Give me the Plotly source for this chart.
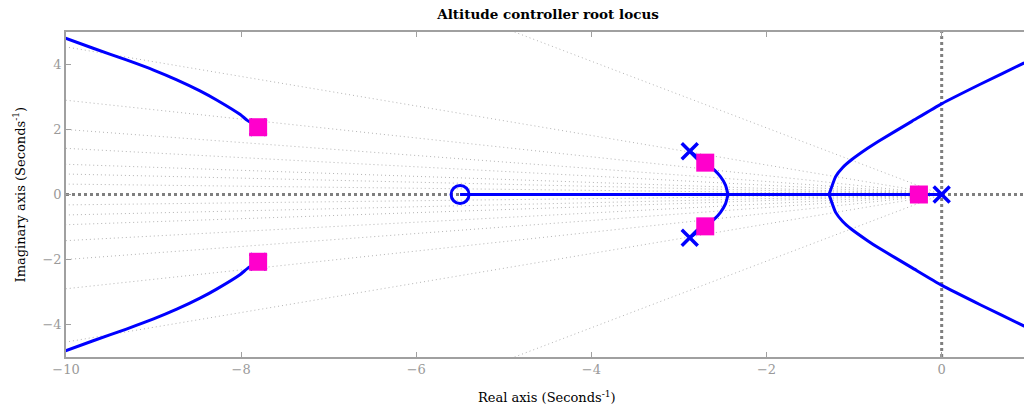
import plotly.graph_objects as go

# ---------------- data ----------------
# open-loop poles / zeros
pole_re = [0.0, -2.877, -2.877, -7.806, -7.806]
pole_im = [0.0, 1.33, -1.33, 2.07, -2.07]
zero_re = [-5.5]
zero_im = [0.0]

# closed-loop poles at chosen gain
cl_re = [-7.806, -7.806, -2.70, -2.70, -0.26]
cl_im = [2.07, -2.07, 0.98, -0.98, 0.0]

# branch from the far complex poles toward left asymptotes (upper half)
far_x = [-7.806, -7.93, -8.01, -8.28, -8.47, -8.735, -9.0, -9.31, -9.69, -10.05]
far_y = [2.07, 2.28, 2.46, 2.91, 3.19, 3.53, 3.83, 4.14, 4.50, 4.85]

# branch from near complex poles to break-in point (upper half)
near_x = [-2.877, -2.70, -2.594, -2.526, -2.469, -2.44]
near_y = [1.33, 0.98, 0.75, 0.547, 0.29, 0.0]

# branch from break-away point toward right asymptotes (upper half)
right_x = [-1.286, -1.211, -1.13, -1.033, -0.846, -0.721, -0.341, -0.002, 0.446, 0.936, 1.0]
right_y = [0.0, 0.55, 0.83, 1.06, 1.42, 1.64, 2.25, 2.79, 3.40, 4.04, 4.12]

# real-axis locus segment
real_seg_x = [-5.5, 0.0]

# damping-ratio grid lines (slopes of rays from origin)
damping_slopes = [0.032, 0.063, 0.093, 0.142, 0.200, 0.290, 0.454, 1.025]

x_ticks = [-10, -8, -6, -4, -2, 0]
y_ticks = [-4, -2, 0, 2, 4]
x_range = [-10, 0.94]
y_range = [-5, 5]

BLUE = "#0000ff"
MAG = "#ff00cc"
GRID = "#b4b4b4"
AXG = "#7f7f7f"
FONT = "DejaVu Serif"

fig = go.Figure()

# damping grid rays
for s in damping_slopes:
    for sign in (1, -1):
        fig.add_trace(go.Scatter(x=[0, -10.5], y=[0, sign * s * 10.5], mode="lines",
                                 line=dict(color=GRID, width=1, dash="1px,3px"),
                                 hoverinfo="skip", showlegend=False))

# thick dotted axes through origin
fig.add_trace(go.Scatter(x=[x_range[0], x_range[1] + 0.1], y=[0, 0], mode="lines",
                         line=dict(color=AXG, width=3, dash="dot"), showlegend=False))
fig.add_trace(go.Scatter(x=[0, 0], y=[y_range[0], y_range[1]], mode="lines",
                         line=dict(color=AXG, width=3, dash="dot"), showlegend=False))

# locus branches
def branch(xs, ys):
    for sign in (1, -1):
        fig.add_trace(go.Scatter(x=xs, y=[sign * v for v in ys], mode="lines",
                                 line=dict(color=BLUE, width=3, shape="spline", smoothing=0.5),
                                 showlegend=False))

branch(far_x, far_y)
branch(near_x, near_y)
branch(right_x, right_y)
fig.add_trace(go.Scatter(x=real_seg_x, y=[0, 0], mode="lines",
                         line=dict(color=BLUE, width=3), showlegend=False))

# poles
fig.add_trace(go.Scatter(x=pole_re, y=pole_im, mode="markers",
                         marker=dict(symbol="x-thin", size=16, color=BLUE,
                                     line=dict(color=BLUE, width=3.5)),
                         showlegend=False))
# zero
fig.add_trace(go.Scatter(x=zero_re, y=zero_im, mode="markers",
                         marker=dict(symbol="circle-open", size=18, color=BLUE,
                                     line=dict(color=BLUE, width=3)),
                         showlegend=False))
# closed-loop poles
fig.add_trace(go.Scatter(x=cl_re, y=cl_im, mode="markers",
                         marker=dict(symbol="square", size=18, color=MAG,
                                     line=dict(width=0)),
                         showlegend=False))

# dummy trace for top axis
fig.add_trace(go.Scatter(x=[None], y=[None], xaxis="x2", showlegend=False))

axis_common = dict(showgrid=False, zeroline=False, showline=True, linecolor="#a0a0a0",
                   linewidth=1.5, ticks="inside", ticklen=5, tickcolor="#a0a0a0",
                   tickwidth=1, tickfont=dict(family=FONT, size=13, color="#9a9a9a"))

fig.update_layout(
    width=1024, height=412,
    margin=dict(l=66, r=0, t=32, b=55),
    paper_bgcolor="white", plot_bgcolor="white",
    font=dict(family=FONT, color="black"),
    title=dict(text="<b>Altitude controller root locus</b>", x=548 / 1024, xref="container",
               xanchor="center", y=1 - 14 / 412, yanchor="middle",
               font=dict(family=FONT, size=13.5, color="black")),
    xaxis=dict(range=x_range, tickvals=x_ticks, **axis_common),
    xaxis2=dict(range=x_range, overlaying="x", side="top", tickvals=x_ticks,
                showticklabels=False, showgrid=False, zeroline=False, showline=True,
                linecolor="#a0a0a0", linewidth=1.5, ticks="inside", ticklen=5,
                tickcolor="#a0a0a0"),
    yaxis=dict(range=y_range, tickvals=y_ticks, **axis_common),
    annotations=[
        dict(text="Real axis (Seconds<sup>-1</sup>)", xref="paper", yref="paper",
             x=(547 - 66) / 958, y=(357 - 397) / 325, xanchor="center", yanchor="middle",
             showarrow=False, font=dict(family=FONT, size=13, color="black")),
        dict(text="Imaginary axis (Seconds<sup>-1</sup>)", xref="paper", yref="paper",
             x=-(66 - 19) / 958, y=0.5, xanchor="center", yanchor="middle", textangle=-90,
             showarrow=False, font=dict(family=FONT, size=13, color="black")),
    ],
)

fig.write_html("out.html")
